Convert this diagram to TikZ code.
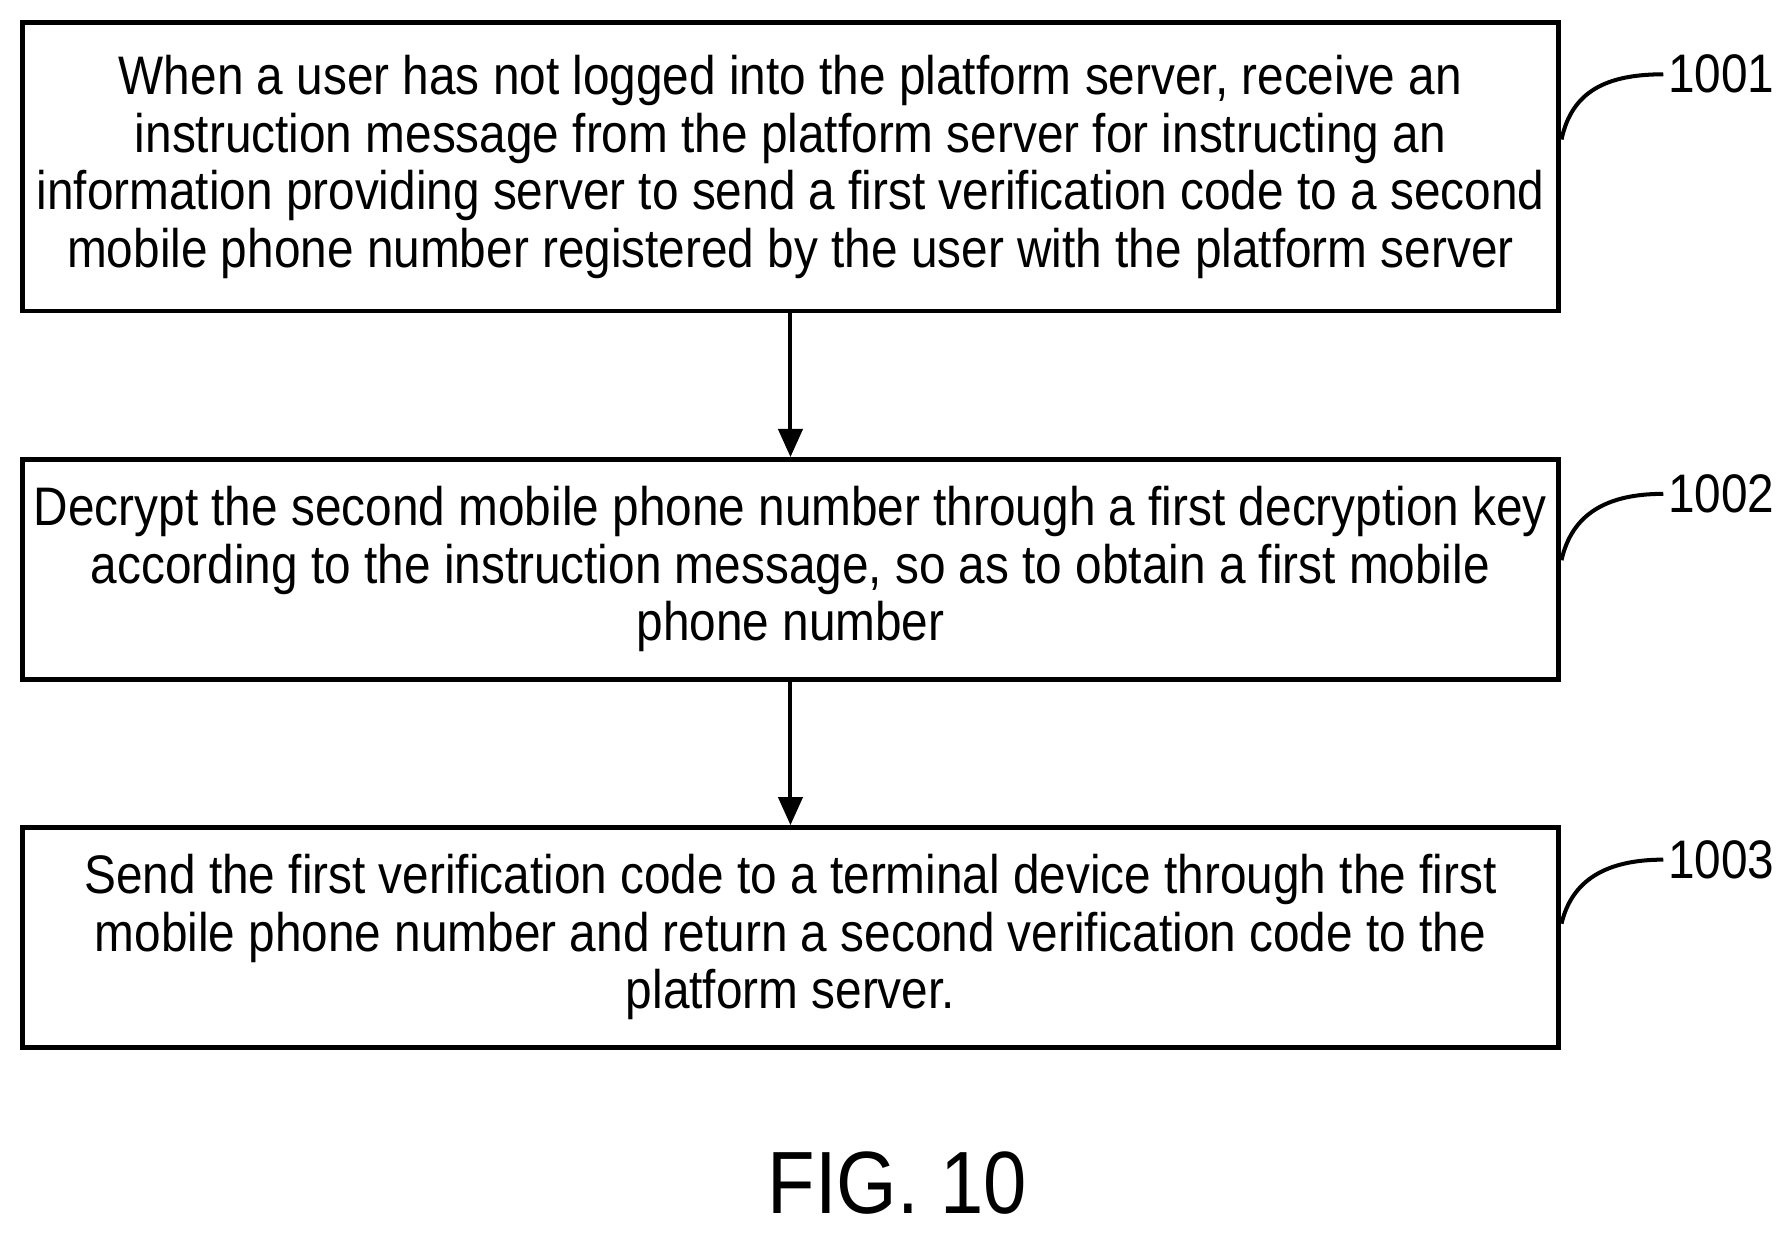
\documentclass[tikz,border=0pt]{standalone}
\usepackage{fontspec}
\setmainfont{Liberation Sans}[FakeStretch=0.88]
\usepackage{tikz}
\usetikzlibrary{arrows.meta}
\tikzset{
  stepbox/.style={draw, line width=1.2pt, minimum width=13.43cm, align=center, inner sep=0pt,
    font=\fontsize{13.5}{14.3}\selectfont},
  flow/.style={-{Triangle[length=7pt,width=6pt]}, line width=1pt},
  tag/.style={font=\fontsize{13.5}{14.3}\selectfont, anchor=west, inner sep=1pt},
}
\begin{document}
\begin{tikzpicture}[x=0.01cm, y=-0.01cm]
		\useasboundingbox (0,0) rectangle (1565,1078);
		% Steps
		\node[stepbox, minimum height=2.52cm] (s1) at (691.5,146) {When a user has not logged into the platform server, receive an\\instruction message from the platform server for instructing an\\information providing server to send a first verification code to a second\\mobile phone number registered by the user with the platform server};
		\node[stepbox, minimum height=1.92cm] (s2) at (691.5,498) {Decrypt the second mobile phone number through a first decryption key\\according to the instruction message, so as to obtain a first mobile\\phone number};
		\node[stepbox, minimum height=1.92cm] (s3) at (691.5,820) {Send the first verification code to a terminal device through the first\\mobile phone number and return a second verification code to the\\platform server.};
		% Arrows
		\draw[flow] (s1) -- (s2);
		\draw[flow] (s2) -- (s3);
		% Reference numbers
		\node[tag] (n1) at (1455,65) {1001};
		\node[tag] (n2) at (1455,432) {1002};
		\node[tag] (n3) at (1455,752) {1003};
		\draw[line width=1pt] (1366,122) .. controls (1375,80) and (1405,65) .. (n1.west);
		\draw[line width=1pt] (1366,490) .. controls (1375,450) and (1405,432) .. (n2.west);
		\draw[line width=1pt] (1366,808) .. controls (1375,770) and (1405,752) .. (n3.west);
		% Caption
		\node[font=\fontsize{22}{24}\selectfont] (fig) at (785,1035) {FIG. 10};
	\end{tikzpicture}
\end{document}
